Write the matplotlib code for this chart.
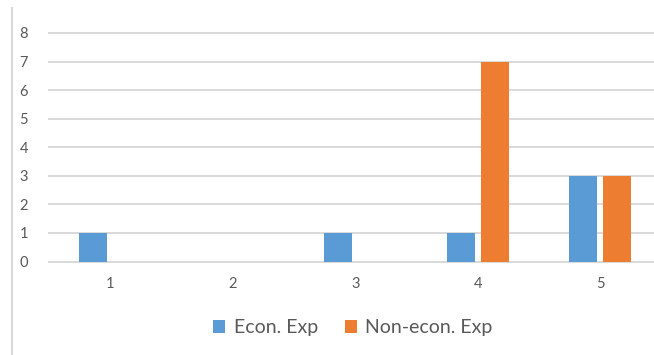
import matplotlib
matplotlib.use("Agg")
import matplotlib.pyplot as plt
from matplotlib.lines import Line2D
import numpy as np

categories = ["1", "2", "3", "4", "5"]
econ_exp = [1, 0, 1, 1, 3]
non_econ_exp = [0, 0, 0, 7, 3]
y_ticks = [0, 1, 2, 3, 4, 5, 6, 7, 8]

BLUE = "#5B9BD5"
ORANGE = "#ED7D31"
GRID = "#D9D9D9"
TEXT = "#595959"

plt.rcParams["font.family"] = ["Lato", "DejaVu Sans"]

W, H = 654, 355
fig = plt.figure(figsize=(W / 100, H / 100), dpi=100)
ax = fig.add_axes([49 / W, (H - 261.5) / H, (W - 49) / W, (261.5 - 33) / H])

x = np.arange(1, len(categories) + 1)
bw = 0.229
gap = 0.049
off = (bw + gap) / 2
ax.bar(x - off, econ_exp, width=bw, color=BLUE, label="Econ. Exp", zorder=3)
ax.bar(x + off, non_econ_exp, width=bw, color=ORANGE, label="Non-econ. Exp", zorder=3)

ax.set_xlim(0.5, 0.5 + (W - 49) / 122.5)
ax.set_ylim(0, 8)
for yv in y_ticks:
    ax.axhline(yv, color=GRID, lw=1.4, zorder=1, clip_on=False)

for s in ax.spines.values():
    s.set_visible(False)
ax.set_xticks(x)
ax.set_xticklabels(categories)
ax.set_yticks(y_ticks)
ax.tick_params(axis="both", length=0, colors=TEXT, labelsize=10.5)
ax.tick_params(axis="y", pad=15)
ax.tick_params(axis="x", pad=11)

# chart-area border on the left
fig.add_artist(Line2D([11.5 / W, 11.5 / W], [0, 1 - 8 / H], color=GRID, lw=1.5))

fig.legend(loc="center", bbox_to_anchor=(353 / W, 1 - 328 / H), ncol=2, frameon=False,
           fontsize=14, labelcolor=TEXT, handlelength=0.6, handleheight=0.6,
           handletextpad=0.45, columnspacing=1.4)

fig.savefig("out.png", dpi=100)
